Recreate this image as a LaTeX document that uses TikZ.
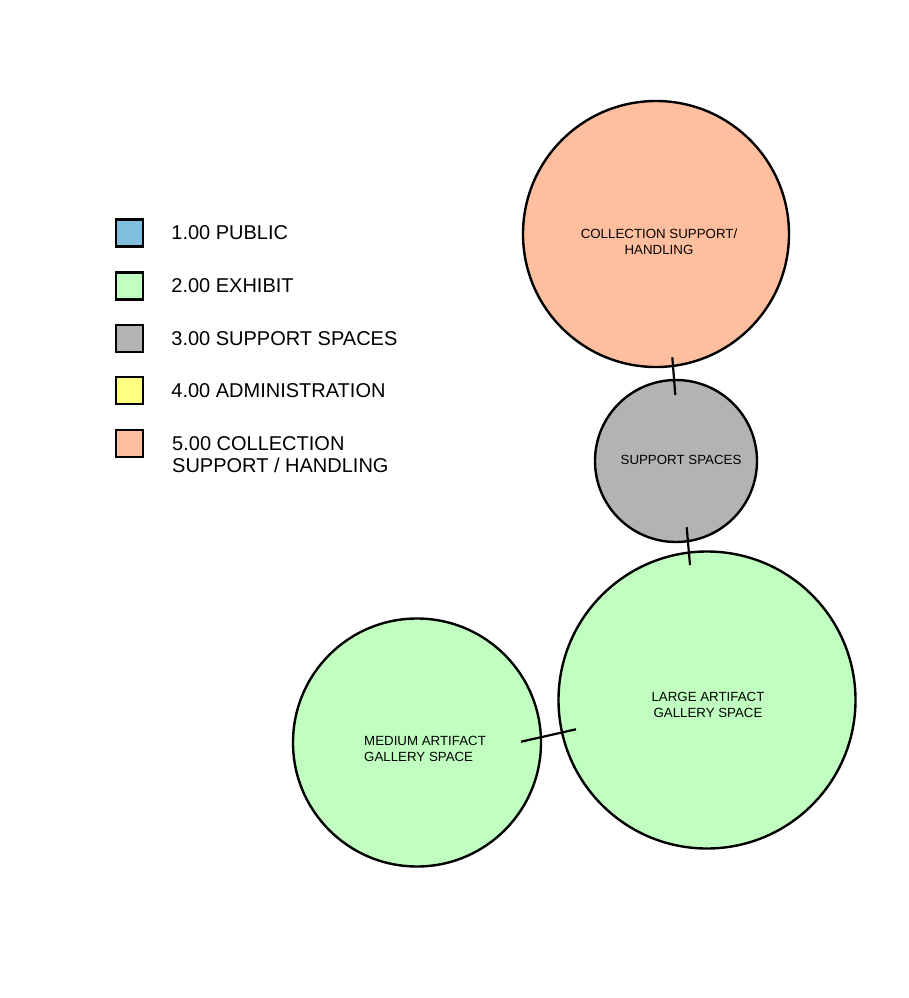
\documentclass[tikz,border=0pt]{standalone}
\usepackage{fontspec}
\setmainfont{Liberation Sans}
\usetikzlibrary{positioning}
\definecolor{public}{RGB}{127,190,223}
\definecolor{exhibit}{RGB}{192,255,192}
\definecolor{support}{RGB}{179,179,179}
\definecolor{admin}{RGB}{255,255,128}
\definecolor{collection}{RGB}{255,191,159}

\begin{document}
\begin{tikzpicture}[
    x=1pt, y=-1pt,
    zone/.style={circle, draw=black, line width=2.4pt, inner sep=0pt},
    swatch/.style={rectangle, draw=black, line width=2.4pt, minimum size=27pt, inner sep=0pt},
    keytext/.style={inner sep=0pt, align=left, font=\fontsize{20}{22.5}\selectfont},
    zonetext/.style={inner sep=0pt, align=center, font=\fontsize{13.3}{15.5}\selectfont},
    link/.style={line width=2.2pt}
]
    \useasboundingbox (0,0) rectangle (909,998);

    % legend
    \node[swatch, fill=public] (k1) at (129.5,233) {};
    \node[swatch, fill=exhibit] (k2) at (129.5,286) {};
    \node[swatch, fill=support] (k3) at (129.5,338.5) {};
    \node[swatch, fill=admin] (k4) at (129.5,390.5) {};
    \node[swatch, fill=collection] (k5) at (129.5,443.5) {};

    \node[keytext, right=27pt of k1] (t1) {1.00 PUBLIC};
    \node[keytext, right=27pt of k2] (t2) {2.00 EXHIBIT};
    \node[keytext, right=27pt of k3] (t3) {3.00 SUPPORT SPACES};
    \node[keytext, right=27pt of k4] (t4) {4.00 ADMINISTRATION};
    \node[keytext, anchor=north west] (t5) at (172,436) {5.00 COLLECTION\\SUPPORT / HANDLING};

    % bubbles
    \node[zone, fill=collection, minimum size=266pt] (coll) at (656,234) {};
    \node[zone, fill=support, minimum size=162pt] (supp) at (676,461) {};
    \node[zone, fill=exhibit, minimum size=297pt] (large) at (707,700) {};
    \node[zone, fill=exhibit, minimum size=248pt] (medium) at (417,742.5) {};

    \node[zonetext] (lcoll) at (659,241.5) {COLLECTION SUPPORT/\\HANDLING};
    \node[zonetext] (lsupp) at (681,460) {SUPPORT SPACES};
    \node[zonetext] (llarge) at (708,705) {LARGE ARTIFACT\\GALLERY SPACE};
    \node[zonetext, align=left, anchor=west] (lmedium) at (364,749) {MEDIUM ARTIFACT\\GALLERY SPACE};

    % adjacencies
    \coordinate (a1) at (672.3,357.3);
    \coordinate (b1) at (675.3,395);
    \coordinate (a2) at (686.7,527.3);
    \coordinate (b2) at (690,565);
    \coordinate (a3) at (521,741.7);
    \coordinate (b3) at (576,729.3);
    \draw[link] (a1) -- (b1);
    \draw[link] (a2) -- (b2);
    \draw[link] (a3) -- (b3);
\end{tikzpicture}
\end{document}
